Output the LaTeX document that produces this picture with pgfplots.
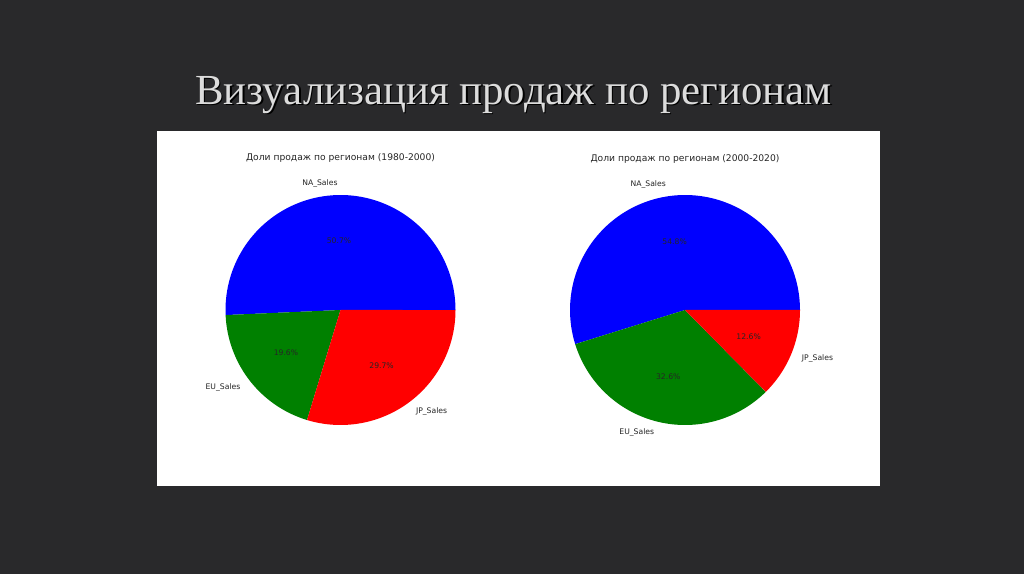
\documentclass[border=0pt]{standalone}
\usepackage{fontspec}
\setmainfont{Liberation Serif}
\newfontfamily\dv{DejaVu Sans}
\usepackage{pgfplots}
\pgfplotsset{compat=1.18}

\definecolor{slidebg}{HTML}{29292B}
\definecolor{titlefg}{HTML}{DCDCDC}
\definecolor{mplgreen}{HTML}{008000}

% shares in percent: NA, EU, JP
\def\naA{50.7}\def\euA{19.6}\def\jpA{29.7}
\def\naB{54.8}\def\euB{32.6}\def\jpB{12.6}

\tikzset{lbl/.style={inner sep=0pt, font=\dv\fontsize{7.7}{8}\selectfont, text=black!85}}

% one wedge, angles in degrees, counterclockwise from 3 o'clock
\newcommand{\pieslice}[3]{%
  \addplot[fill=#3, draw=none, domain=#1:#2, samples=90, variable=\t]
    ({cos(\t)}, {sin(\t)}) -- (axis cs:0,0) -- cycle;}

% label at 1.1 r and percentage at 0.6 r, like matplotlib
\newcommand{\slicelabel}[4]{%
  \pgfmathsetmacro{\midang}{(#1+#2)/2}%
  \pgfmathsetmacro{\lx}{1.1*cos(\midang)}%
  \pgfmathsetmacro{\ly}{1.1*sin(\midang)}%
  \pgfmathsetmacro{\px}{0.6*cos(\midang)}%
  \pgfmathsetmacro{\py}{0.6*sin(\midang)}%
  \pgfmathparse{\lx>0 ? 1 : 0}%
  \ifnum\pgfmathresult=1 \def\anch{west}\else\def\anch{east}\fi
  \edef\tmp{%
    \noexpand\node[lbl, anchor=\anch] at (axis cs:\lx,\ly) {\unexpanded{#3}};
    \noexpand\node[lbl] at (axis cs:\px,\py) {#4\noexpand\%};}%
  \tmp}

\pgfplotsset{pie/.style={
  x=115bp, y=115bp, hide axis, clip=false, anchor=center,
  xmin=-1.2, xmax=1.2, ymin=-1.2, ymax=1.2}}

\begin{document}
\begin{tikzpicture}
\fill[slidebg] (0,0) rectangle (1024bp,574bp);
\useasboundingbox (0,0) rectangle (1024bp,574bp);
\fill[white] (157bp,88bp) rectangle (880bp,443bp);

\node[anchor=base, inner sep=0pt, font=\fontsize{43}{47}\selectfont, text=black]
  at (515bp,468bp) {Визуализация продаж по регионам};
\node[anchor=base, inner sep=0pt, font=\fontsize{43}{47}\selectfont, text=titlefg]
  at (513.5bp,469bp) {Визуализация продаж по регионам};

% 1980-2000
\pgfmathsetmacro{\aA}{3.6*\naA}
\pgfmathsetmacro{\bA}{\aA+3.6*\euA}
\begin{axis}[pie, at={(340.5bp,264bp)}]
\pieslice{0}{\aA}{blue}
\pieslice{\aA}{\bA}{mplgreen}
\pieslice{\bA}{360}{red}
\slicelabel{0}{\aA}{NA\_Sales}{\naA}
\slicelabel{\aA}{\bA}{EU\_Sales}{\euA}
\slicelabel{\bA}{360}{JP\_Sales}{\jpA}
\end{axis}
\node[font=\dv\fontsize{9.2}{10}\selectfont, text=black!85]
  at (340.5bp,416bp) {Доли продаж по регионам (1980-2000)};

% 2000-2020
\pgfmathsetmacro{\aB}{3.6*\naB}
\pgfmathsetmacro{\bB}{\aB+3.6*\euB}
\begin{axis}[pie, at={(685bp,264bp)}]
\pieslice{0}{\aB}{blue}
\pieslice{\aB}{\bB}{mplgreen}
\pieslice{\bB}{360}{red}
\slicelabel{0}{\aB}{NA\_Sales}{\naB}
\slicelabel{\aB}{\bB}{EU\_Sales}{\euB}
\slicelabel{\bB}{360}{JP\_Sales}{\jpB}
\end{axis}
\node[font=\dv\fontsize{9.2}{10}\selectfont, text=black!85]
  at (685bp,415bp) {Доли продаж по регионам (2000-2020)};
\end{tikzpicture}
\end{document}
